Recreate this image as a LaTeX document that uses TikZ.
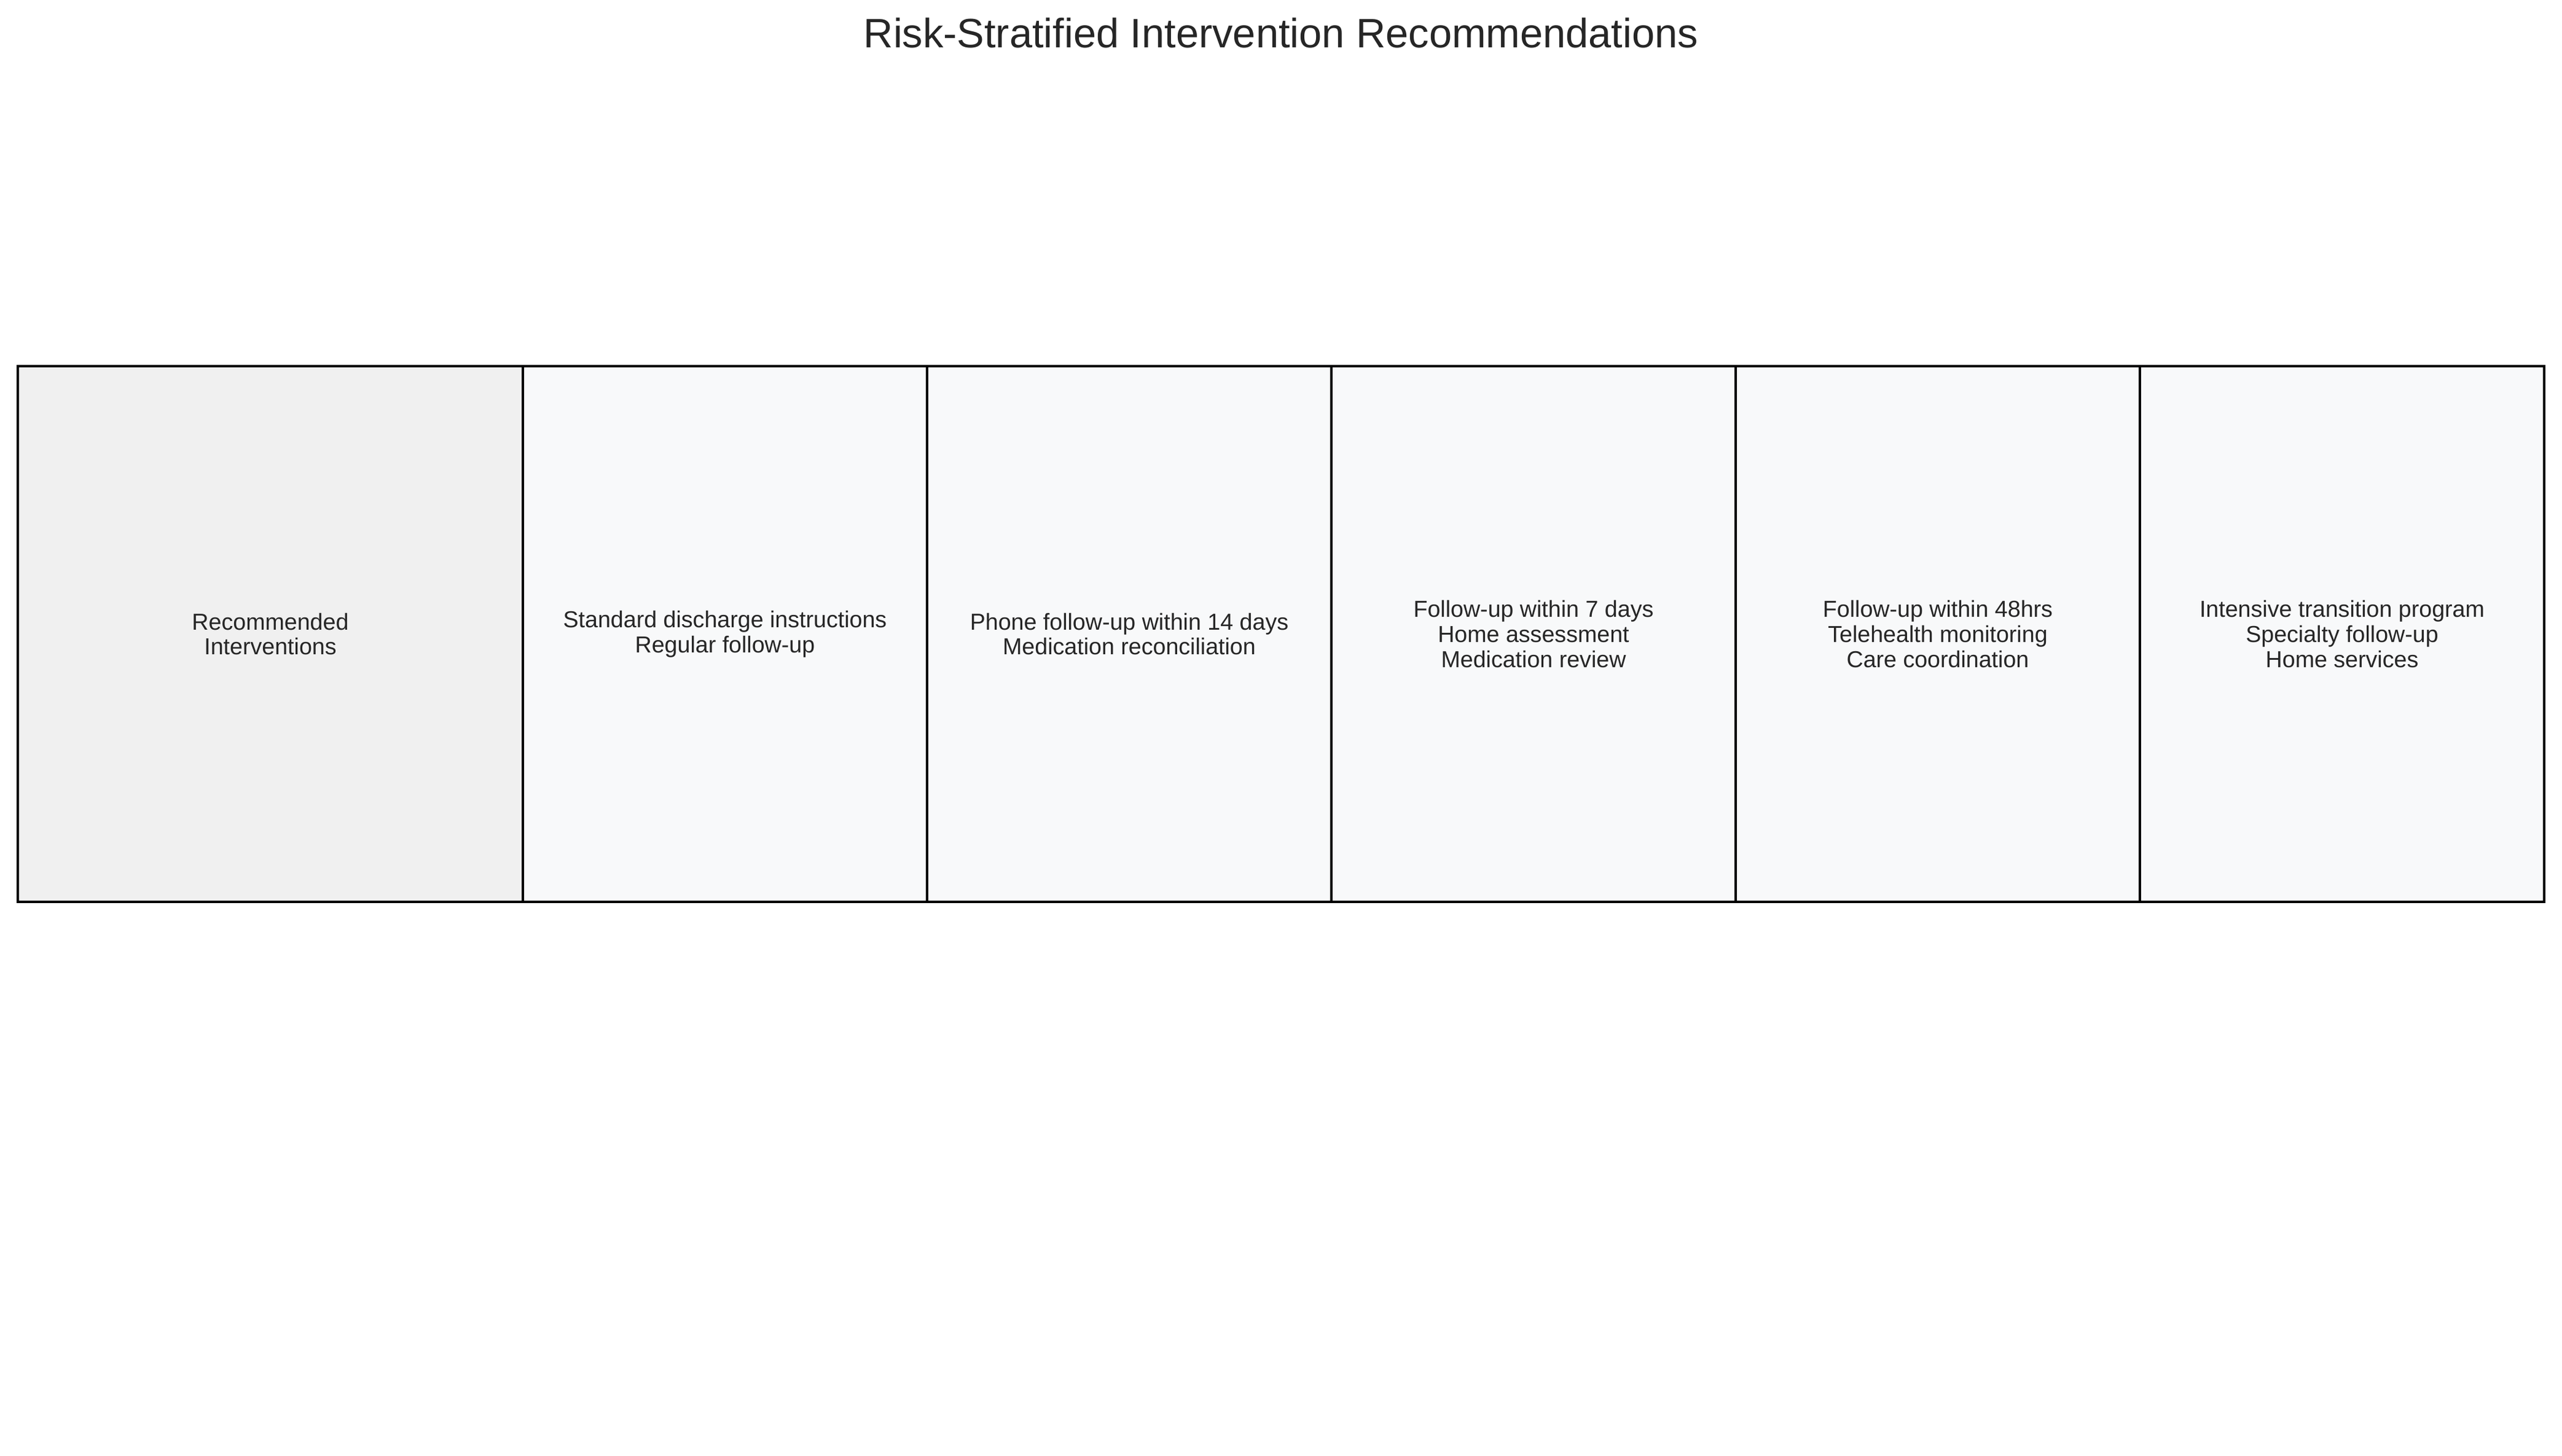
\documentclass[tikz,border=0pt]{standalone}
\usepackage{fontspec}
\setmainfont{Liberation Sans}
\usetikzlibrary{positioning}
\definecolor{headfill}{HTML}{F0F0F0}
\definecolor{cellfill}{HTML}{F8F9FA}
\definecolor{inktext}{HTML}{262626}
\begin{document}
\begin{tikzpicture}[
            node distance=0pt,
            every node/.style={text=inktext, align=center, font=\fontsize{10.7}{11.6}\selectfont},
            cell/.style={draw=black, line width=1.1pt, minimum height=8.72cm, minimum width=6.58cm, fill=cellfill, inner sep=0pt, outer sep=0pt}
        ]
            \useasboundingbox (0,0) rectangle (41.7,23.7);

            \node[font=\fontsize{19}{22}\selectfont, anchor=base] (title) at (20.85,22.92) {Risk-Stratified Intervention Recommendations};

            \node[cell, fill=headfill, minimum width=8.22cm] (head) at (4.40,13.38) {Recommended\\Interventions};
            \node[cell, right=of head] (low) {Standard discharge instructions\\Regular follow-up};
            \node[cell, right=of low] (lowmod) {Phone follow-up within 14 days\\Medication reconciliation};
            \node[cell, right=of lowmod] (moderate) {Follow-up within 7 days\\Home assessment\\Medication review};
            \node[cell, right=of moderate] (high) {Follow-up within 48hrs\\Telehealth monitoring\\Care coordination};
            \node[cell, right=of high] (veryhigh) {Intensive transition program\\Specialty follow-up\\Home services};

        \end{tikzpicture}
\end{document}
